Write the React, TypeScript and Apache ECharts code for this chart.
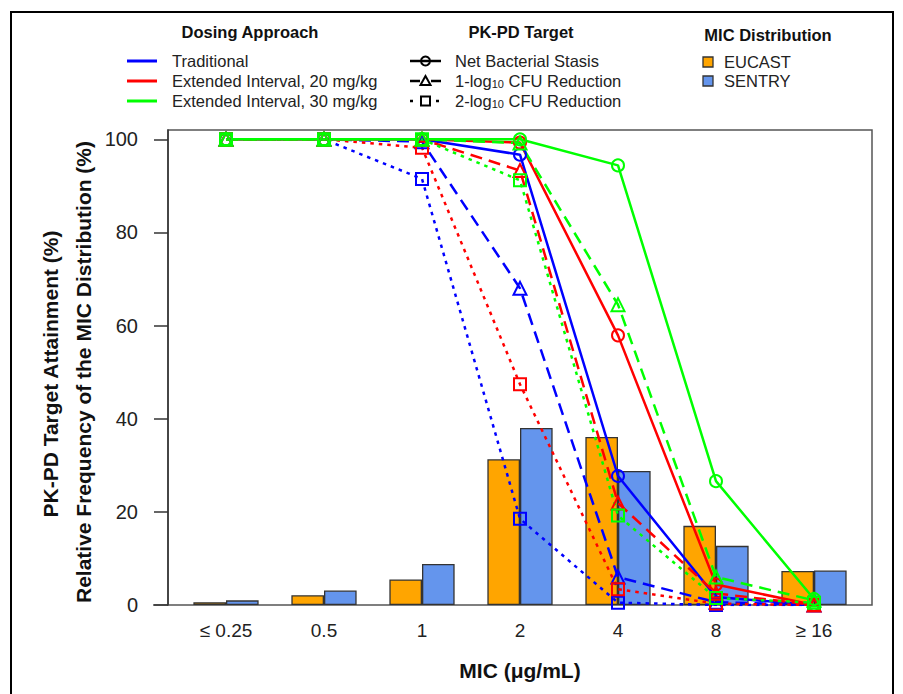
import React, { useEffect, useRef } from 'react';
import * as echarts from 'echarts';

// ---- Data ----
const categories = ['≤ 0.25', '0.5', '1', '2', '4', '8', '≥ 16'];
const eucast = [0.6, 2.1, 5.5, 31.3, 36.1, 17.0, 7.3];
const sentry = [1.0, 3.1, 8.8, 38.0, 28.8, 12.7, 7.4];

const tradStasis = [100, 100, 100, 96.7, 27.7, 1.7, 0];
const trad1log = [100, 100, 99.5, 68.0, 6.0, 0.6, 0];
const trad2log = [100, 100, 91.5, 18.5, 0.5, 0, 0];
const ext20Stasis = [100, 100, 100, 99.3, 57.9, 4.4, 0];
const ext20Log1 = [100, 100, 100, 93.3, 21.9, 2.5, 0];
const ext20Log2 = [100, 100, 98.2, 47.4, 3.4, 0.3, 0];
const ext30Stasis = [100, 100, 100, 100, 94.4, 26.6, 1.3];
const ext30Log1 = [100, 100, 100, 99.2, 64.5, 6.0, 1.0];
const ext30Log2 = [100, 100, 100, 91.2, 19.2, 1.5, 0.5];

const yTicks = [0, 20, 40, 60, 80, 100];

const dosingNames = ['Traditional', 'Extended Interval, 20 mg/kg', 'Extended Interval, 30 mg/kg'];
const dosingColors = ['#0000FF', '#FF0000', '#00FF00'];
const targetNames = ['Net Bacterial Stasis', '1-log{s|10} CFU Reduction', '2-log{s|10} CFU Reduction'];
const micNames = ['EUCAST', 'SENTRY'];
const micColors = ['#FFA500', '#6495ED'];

const FONT = '"Liberation Sans", Arial, Helvetica, sans-serif';
const DASHED = [12, 7];
const DOTTED = [3.5, 5];

function mkLine(name: string, data: number[], color: string, dash: any, symbol: string) {
  return {
    type: 'line',
    name,
    data,
    xAxisIndex: 1,
    yAxisIndex: 1,
    symbol,
    symbolSize: symbol === 'triangle' ? 13 : 12,
    showSymbol: true,
    silent: true,
    z: 3,
    lineStyle: { color, width: 2.5, type: dash, cap: 'butt' },
    itemStyle: { color: 'rgba(0,0,0,0)', borderColor: color, borderWidth: 2 },
  };
}

export default function App() {
  const ref = useRef<HTMLDivElement>(null);

  useEffect(() => {
    if (!ref.current) return;
    const chart = echarts.init(ref.current, null, { renderer: 'svg' });

    const rowY = [61, 81, 101];
    const graphics: any[] = [
      { type: 'rect', shape: { x: 11, y: 12, width: 882, height: 700 }, style: { fill: 'none', stroke: '#000', lineWidth: 2 }, silent: true },
      { type: 'line', shape: { x1: 153, y1: 605, x2: 168, y2: 605 }, style: { stroke: '#555', lineWidth: 1.5 }, silent: true },
      // y titles
      { type: 'text', x: 50, y: 374, rotation: Math.PI / 2, style: { text: 'PK-PD Target Attainment (%)', font: `bold 21px ${FONT}`, fill: '#111', align: 'center', verticalAlign: 'middle' } },
      { type: 'text', x: 83, y: 372, rotation: Math.PI / 2, style: { text: 'Relative Frequency of the MIC Distribution (%)', font: `bold 21px ${FONT}`, fill: '#111', align: 'center', verticalAlign: 'middle' } },
      // headers
      { type: 'text', x: 250, y: 32, style: { text: 'Dosing Approach', font: `bold 16.5px ${FONT}`, fill: '#111', align: 'center', verticalAlign: 'middle' } },
      { type: 'text', x: 521, y: 32, style: { text: 'PK-PD Target', font: `bold 16.5px ${FONT}`, fill: '#111', align: 'center', verticalAlign: 'middle' } },
      { type: 'text', x: 768, y: 35, style: { text: 'MIC Distribution', font: `bold 16.5px ${FONT}`, fill: '#111', align: 'center', verticalAlign: 'middle' } },
    ];

    dosingNames.forEach((n, i) => {
      graphics.push({ type: 'line', shape: { x1: 127, y1: rowY[i], x2: 157, y2: rowY[i] }, style: { stroke: dosingColors[i], lineWidth: 3 }, silent: true });
      graphics.push({ type: 'text', x: 172, y: rowY[i], style: { text: n, font: `16.5px ${FONT}`, fill: '#222', align: 'left', verticalAlign: 'middle' } });
    });

    const dashes: any[] = [null, [10, 11], [3, 23]];
    targetNames.forEach((n, i) => {
      const y = rowY[i];
      graphics.push({ type: 'line', shape: { x1: 410, y1: y, x2: 441, y2: y }, style: { stroke: '#000', lineWidth: 2.5, lineDash: dashes[i] }, silent: true });
      if (i === 0) graphics.push({ type: 'circle', shape: { cx: 425.5, cy: y, r: 4.5 }, style: { fill: 'none', stroke: '#000', lineWidth: 2 } });
      if (i === 1) graphics.push({ type: 'polygon', shape: { points: [[425.5, y - 5], [420.5, y + 4], [430.5, y + 4]] }, style: { fill: 'none', stroke: '#000', lineWidth: 2 } });
      if (i === 2) graphics.push({ type: 'rect', shape: { x: 421, y: y - 4.5, width: 9, height: 9 }, style: { fill: 'none', stroke: '#000', lineWidth: 2 } });
      graphics.push({
        type: 'text', x: 455, y,
        style: {
          text: n, font: `16.5px ${FONT}`, fontSize: 16.5, fontFamily: FONT, fill: '#222', align: 'left', verticalAlign: 'middle',
          rich: { s: { fontSize: 11, fontFamily: FONT, fill: '#222', verticalAlign: 'bottom', lineHeight: 11 } },
        },
      });
    });

    micNames.forEach((n, i) => {
      const y = [62, 81][i];
      graphics.push({ type: 'rect', shape: { x: 703, y: y - 5, width: 10, height: 10 }, style: { fill: micColors[i], stroke: '#333', lineWidth: 1.3 } });
      graphics.push({ type: 'text', x: 724, y, style: { text: n, font: `16.5px ${FONT}`, fill: '#222', align: 'left', verticalAlign: 'middle' } });
    });

    const option: any = {
      animation: false,
      backgroundColor: '#fff',
      textStyle: { fontFamily: FONT },
      grid: [
        { left: 168, right: 31, top: 130, bottom: 89, show: true, borderColor: '#555', borderWidth: 1.5, backgroundColor: 'transparent' },
        { left: 177, right: 40, top: 130, bottom: 89 },
      ],
      xAxis: [
        { type: 'value', gridIndex: 0, min: 0, max: 1, show: false },
        {
          type: 'category', gridIndex: 1, data: categories,
          axisLine: { show: false }, axisTick: { show: false },
          axisLabel: { fontSize: 19, color: '#222', margin: 16, fontFamily: FONT },
          name: 'MIC (μg/mL)', nameLocation: 'middle', nameGap: 55,
          nameTextStyle: { fontSize: 21, fontWeight: 'bold', color: '#111', fontFamily: FONT },
        },
      ],
      yAxis: [
        {
          type: 'value', gridIndex: 0, min: 0, max: 102,
          axisLine: { show: true, lineStyle: { color: '#333', width: 1.5 } },
          axisTick: { show: true, length: 14, customValues: yTicks, lineStyle: { color: '#333', width: 1.5 } },
          axisLabel: { customValues: yTicks, fontSize: 20, color: '#222', margin: 30, fontFamily: FONT },
          splitLine: { show: false },
        },
        { type: 'value', gridIndex: 1, min: 0, max: 102, show: false, splitLine: { show: false } },
      ],
      series: [
        { type: 'bar', name: 'EUCAST', data: eucast, xAxisIndex: 1, yAxisIndex: 1, barWidth: '33.3%', barGap: '0%', silent: true, z: 2,
          itemStyle: { color: micColors[0], borderColor: '#333', borderWidth: 1.3 } },
        { type: 'bar', name: 'SENTRY', data: sentry, xAxisIndex: 1, yAxisIndex: 1, barWidth: '33.3%', barGap: '0%', silent: true, z: 2,
          itemStyle: { color: micColors[1], borderColor: '#333', borderWidth: 1.3 } },
        mkLine('Traditional - Stasis', tradStasis, dosingColors[0], 'solid', 'circle'),
        mkLine('Traditional - 1-log', trad1log, dosingColors[0], DASHED, 'triangle'),
        mkLine('Traditional - 2-log', trad2log, dosingColors[0], DOTTED, 'rect'),
        mkLine('Ext 20 - Stasis', ext20Stasis, dosingColors[1], 'solid', 'circle'),
        mkLine('Ext 20 - 1-log', ext20Log1, dosingColors[1], DASHED, 'triangle'),
        mkLine('Ext 20 - 2-log', ext20Log2, dosingColors[1], DOTTED, 'rect'),
        mkLine('Ext 30 - Stasis', ext30Stasis, dosingColors[2], 'solid', 'circle'),
        mkLine('Ext 30 - 1-log', ext30Log1, dosingColors[2], DASHED, 'triangle'),
        mkLine('Ext 30 - 2-log', ext30Log2, dosingColors[2], DOTTED, 'rect'),
      ],
      graphic: graphics,
    };

    chart.setOption(option);
    return () => chart.dispose();
  }, []);

  return <div ref={ref} style={{ position: 'absolute', left: 0, top: 0, width: 903, height: 694 }} />;
}
